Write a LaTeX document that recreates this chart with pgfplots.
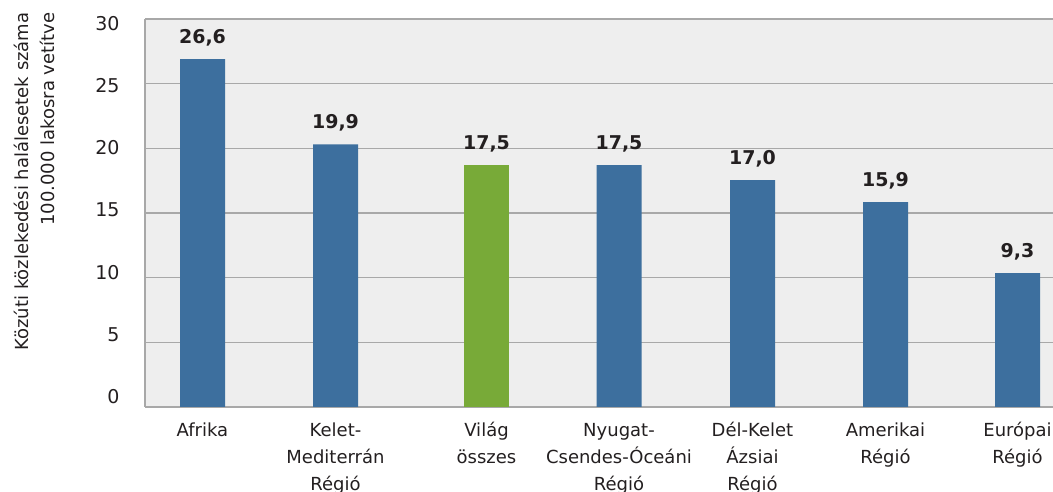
\documentclass[border=0pt]{standalone}
\usepackage{fontspec}
\setmainfont{DejaVu Sans}
\usepackage{pgfplots}
\pgfplotsset{compat=1.18}
\usepackage{pgfplotstable}
\definecolor{barblue}{HTML}{3D6F9E}
\definecolor{bargreen}{HTML}{78AA38}
\definecolor{bggray}{HTML}{EEEEEE}
\definecolor{gridgray}{HTML}{A8A8A8}
\definecolor{txt}{HTML}{231F20}
% x = bar centre position, h = bar height as drawn, label = printed value
\pgfplotstableread{
x h label
202.5 26.9 26,6
335.5 20.3 19,9
619 18.7 17,5
752.5 17.55 17,0
885.5 15.85 15,9
1017.5 10.35 9,3
}\bluedata
\pgfplotstableread{
x h label
486.5 18.7 17,5
}\greendata
\begin{document}
\begin{tikzpicture}
\useasboundingbox (0,0) rectangle (1053pt,492pt);
\begin{axis}[
  at={(145pt,85pt)}, anchor=south west,
  width=908pt, height=388pt, scale only axis,
  xmin=145, xmax=1053, ymin=0, ymax=30,
  ybar, bar width=45pt, bar shift=0pt,
  axis background/.style={fill=bggray},
  axis x line*=bottom, axis y line*=left,
  axis line style={gridgray, line width=1.2pt, -},
  ymajorgrids, grid style={gridgray, line width=1.2pt},
  ytick={0,5,...,30},
  tick style={draw=none}, major tick length=0pt,
  xtick={202.5,335.5,486.5,619,752.5,885.5,1017.5},
  xticklabels={{\vphantom{É}Afrika},{\vphantom{É}Kelet-\\Mediterrán\\Régió},{\vphantom{É}Világ\\összes},{\vphantom{É}Nyugat-\\Csendes-Óceáni\\Régió},{\vphantom{É}Dél-Kelet\\Ázsiai\\Régió},{\vphantom{É}Amerikai\\Régió},{\vphantom{É}Európai\\Régió}},
  xticklabel style={align=center, font=\fontsize{18}{27}\selectfont, text=txt, anchor=north, yshift=-9.5pt},
  yticklabel style={font=\fontsize{19}{20}\selectfont, text=txt, anchor=east, xshift=-22pt, yshift={(10-2.4*\ticknum)*1pt}},
  /pgf/number format/assume math mode=true,
  nodes near coords, point meta=explicit symbolic,
  every node near coord/.append style={font=\bfseries\fontsize{19}{20}\selectfont, text=txt, anchor=base, yshift=16pt},
]
\addplot[fill=barblue, draw=none] table[x=x, y=h, meta=label] {\bluedata};
\addplot[fill=bargreen, draw=none] table[x=x, y=h, meta=label] {\greendata};
\end{axis}
\node[rotate=90, align=right, font=\fontsize{18}{26}\selectfont, text=txt] at (34pt,310.5pt) {Közúti közlekedési halálesetek száma\\100.000 lakosra vetítve};
\end{tikzpicture}
\end{document}
